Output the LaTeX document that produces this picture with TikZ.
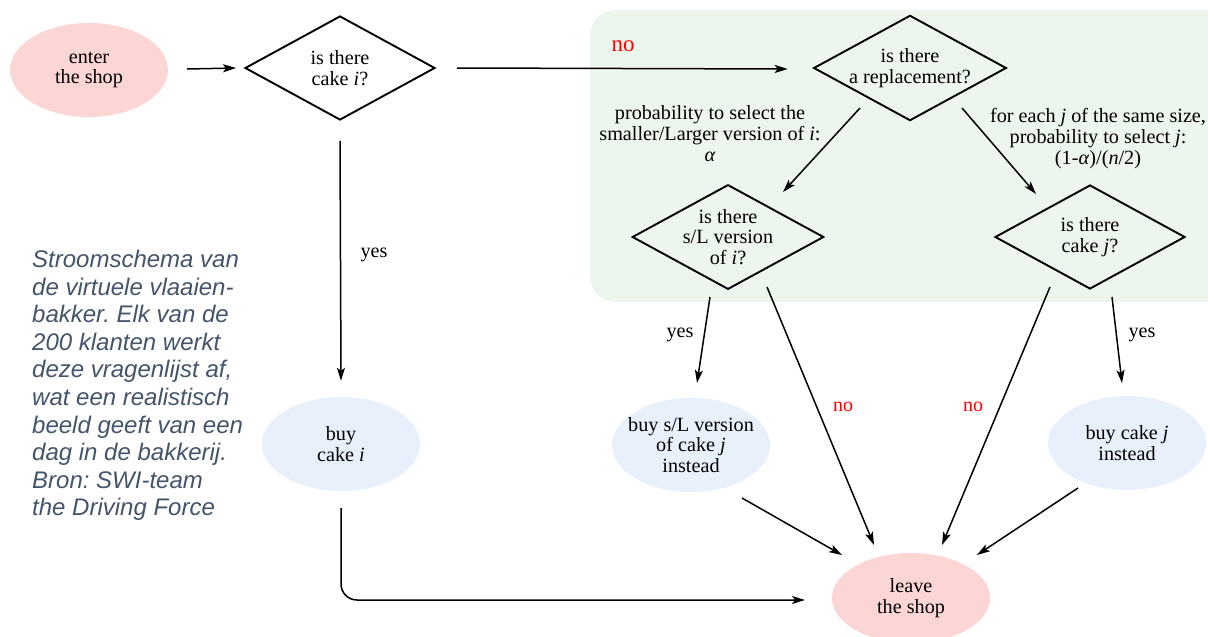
\documentclass[tikz,border=0pt]{standalone}
\usepackage{fontspec}
\setmainfont{Liberation Serif}
\setsansfont{Liberation Sans}
\usetikzlibrary{shapes.geometric,arrows.meta}
\definecolor{pinkfill}{HTML}{FCD5D5}
\definecolor{bluefill}{HTML}{E8F0FC}
\definecolor{greenfill}{HTML}{EDF6EC}
\definecolor{captioncol}{HTML}{44546A}
\definecolor{nored}{HTML}{FF0000}
\begin{document}
\frenchspacing
\begin{tikzpicture}[x=1pt,y=-1pt,
  every node/.style={font=\fontsize{20.2}{20.5}\selectfont, align=center, inner sep=0pt},
  oval/.style={ellipse, minimum width=158pt, minimum height=94pt},
  startend/.style={oval, fill=pinkfill},
  action/.style={oval, fill=bluefill, inner sep=-12pt},
  decision/.style={diamond, draw, line width=1.9pt, minimum width=190pt, minimum height=104pt, shape aspect=1.83},
  arr/.style={-{Stealth[length=13pt,width=8pt,inset=3pt]}, line width=1.5pt},
  lbl/.style={font=\fontsize{20.2}{21}\selectfont},
  nolbl/.style={text=nored, font=\fontsize{20}{21}\selectfont}
]
\useasboundingbox (0,0) rectangle (1208,637);
\fill[greenfill, rounded corners=25pt] (590,10) rectangle (1232,302);

\node[startend] (enter) at (89,70) {enter\\the shop};
\node[decision] (d1) at (340,68) {is there\\cake \textit{i}?};
\node[decision] (repl) at (910,68) {is there\\a replacement?};
\node[decision] (sL) at (728,237) {is there\\s/L version\\of \textit{i}?};
\node[decision] (dj) at (1090,237) {is there\\cake \textit{j}?};
\node[action] (buyi) at (341,444) {buy\\cake \textit{i}};
\node[action] (buysL) at (691,445) {buy s/L version\\of cake \textit{j}\\instead};
\node[action] (buyj) at (1127,443) {buy cake \textit{j}\\instead};
\node[startend, minimum height=90pt] (leave) at (911,598) {leave\\the shop};

\node[font=\fontsize{23}{24}\selectfont, text=nored] (nobig) at (623,46) {no};
\node[lbl] (lp) at (710,134) {probability to select the\\smaller/Larger version of \textit{i}:\\\textit{α}};
\node[lbl] (rp) at (1098,139) {for each \textit{j} of the same size,\\probability to select \textit{j}:\\(1-\textit{α})/(\textit{n}/2)};
\node[lbl] (yes1) at (374,255) {yes};
\node[lbl] (yes2) at (680,335) {yes};
\node[lbl] (yes3) at (1142,335) {yes};
\node[nolbl] (no2) at (843,407) {no};
\node[nolbl] (no3) at (973,407) {no};

\node[anchor=north west, align=left, text=captioncol, font=\sffamily\itshape\fontsize{24}{27.6}\selectfont] (cap) at (32,250)
{Stroomschema van\\de virtuele vlaaien-\\bakker. Elk van de\\200 klanten werkt\\deze vragenlijst af,\\wat een realistisch\\beeld geeft van een\\dag in de bakkerij.\\Bron: SWI-team\\the Driving Force};

\draw[arr] ([shift={(98,-1)}]enter.center) -- ([shift={(-8,0)}]d1.west);
\draw[arr] ([shift={(21,0)}]d1.east) -- ([shift={(-25,1)}]repl.west);
\draw[arr] ([shift={(0,20)}]d1.south) -- ([shift={(0,-16)}]buyi.north);
\draw[arr] ([shift={(-50,40)}]repl.center) -- ([shift={(55,-45)}]sL.center);
\draw[arr] ([shift={(52,40)}]repl.center) -- ([shift={(-54,-43)}]dj.center);
\draw[arr] ([shift={(-18,60)}]sL.center) -- ([shift={(6,-62)}]buysL.center);
\draw[arr] ([shift={(39,50)}]sL.center) -- ([shift={(-37,-53)}]leave.center);
\draw[arr] ([shift={(-40,50)}]dj.center) -- ([shift={(31,-53)}]leave.center);
\draw[arr] ([shift={(22,60)}]dj.center) -- ([shift={(-5,-60)}]buyj.center);
\draw[arr] ([shift={(51,53)}]buysL.center) -- ([shift={(-69,-43)}]leave.center);
\draw[arr] ([shift={(-49,45)}]buyj.center) -- ([shift={(66,-43)}]leave.center);
\draw[arr, rounded corners=16pt] ([shift={(0,64)}]buyi.center) |- ([shift={(-106,2)}]leave.center);
\end{tikzpicture}
\end{document}
